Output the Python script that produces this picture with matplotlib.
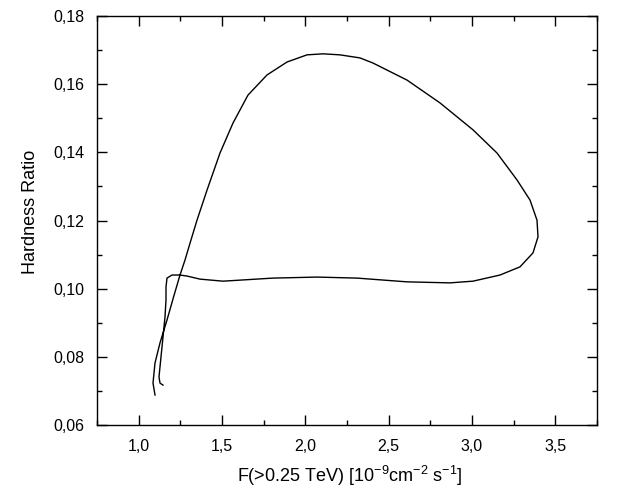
import matplotlib
matplotlib.use("Agg")
import matplotlib.pyplot as plt
from matplotlib.ticker import MultipleLocator, FuncFormatter

plt.rcParams['font.family'] = ['Liberation Sans', 'DejaVu Sans']
plt.rcParams['mathtext.default'] = 'regular'

flux = [1.098, 1.086, 1.098, 1.128, 1.170, 1.206, 1.248, 1.278, 1.314, 1.350,
        1.410, 1.488, 1.566, 1.656, 1.770, 1.890, 2.010, 2.106, 2.208, 2.328,
        2.406, 2.610, 2.808, 3.006, 3.150, 3.270, 3.348, 3.390, 3.396, 3.366,
        3.288, 3.168, 3.006, 2.868, 2.610, 2.310, 2.070, 1.806, 1.506, 1.368,
        1.290, 1.248, 1.200, 1.170, 1.164, 1.164, 1.158, 1.146, 1.134, 1.122,
        1.128, 1.146]
hardness = [0.0688, 0.0723, 0.0782, 0.0841, 0.0908, 0.0970, 0.1040, 0.1084, 0.1143, 0.1201,
            0.1289, 0.1398, 0.1486, 0.1568, 0.1627, 0.1665, 0.1686, 0.1689, 0.1686, 0.1677,
            0.1662, 0.1612, 0.1545, 0.1466, 0.1398, 0.1319, 0.1260, 0.1201, 0.1152, 0.1105,
            0.1064, 0.1040, 0.1022, 0.1017, 0.1020, 0.1031, 0.1034, 0.1031, 0.1022, 0.1028,
            0.1037, 0.1040, 0.1040, 0.1031, 0.1005, 0.0967, 0.0917, 0.0858, 0.0800, 0.0741,
            0.0723, 0.0717]

fig = plt.figure(figsize=(6.24, 4.9), dpi=100)
ax = fig.add_axes([97/624, 1-425/490, 500/624, 409/490])
ax.plot(flux, hardness, color='black', lw=1.0, solid_joinstyle='round')

ax.set_xlim(0.75, 3.75)
ax.set_ylim(0.06, 0.18)
ax.xaxis.set_major_locator(MultipleLocator(0.5))
ax.xaxis.set_minor_locator(MultipleLocator(0.25))
ax.yaxis.set_major_locator(MultipleLocator(0.02))
ax.yaxis.set_minor_locator(MultipleLocator(0.01))
ax.xaxis.set_major_formatter(FuncFormatter(lambda v, p: f"{v:.1f}".replace('.', ',')))
ax.yaxis.set_major_formatter(FuncFormatter(lambda v, p: f"{v:.2f}".replace('.', ',')))
ax.tick_params(which='both', direction='in', top=True, right=True, width=1.0, labelsize=11.5)
ax.tick_params(which='major', length=7)
ax.tick_params(axis='x', which='major', pad=10)
ax.tick_params(axis='y', which='major', pad=9)
ax.tick_params(which='minor', length=3.5)
for s in ax.spines.values():
    s.set_linewidth(1.0)

ax.set_xlabel(r'F(>0.25 TeV) [10$^{-9}$cm$^{-2}$ s$^{-1}$]', fontsize=13)
ax.xaxis.set_label_coords(0.506, -0.095)
ax.set_ylabel('Hardness Ratio', fontsize=13)
ax.yaxis.set_label_coords(-0.116, 0.52)

fig.savefig('out.png', dpi=100)
